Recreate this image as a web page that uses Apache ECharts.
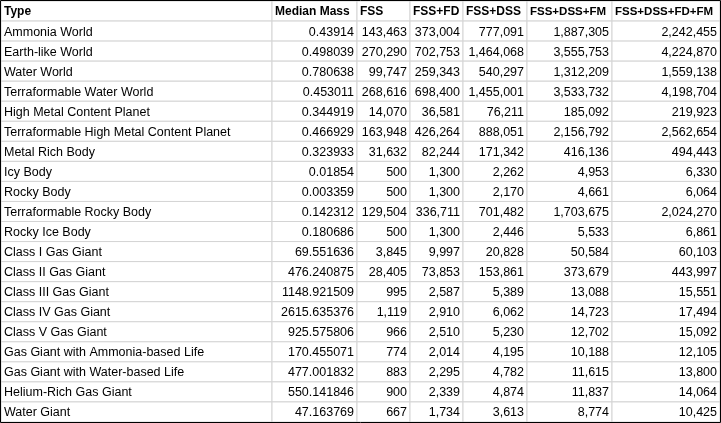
<!DOCTYPE html>
<html><head><meta charset="utf-8">
<script src="https://cdn.jsdelivr.net/npm/echarts@6/dist/echarts.min.js"></script>
<style>html,body{margin:0;padding:0;background:#fff}#c{width:721px;height:423px}</style>
</head><body><div id="c"></div>
<script>
var headers = ["Type","Median Mass","FSS","FSS+FD","FSS+DSS","FSS+DSS+FM","FSS+DSS+FD+FM"];
var types = ["Ammonia World","Earth-like World","Water World","Terraformable Water World","High Metal Content Planet","Terraformable High Metal Content Planet","Metal Rich Body","Icy Body","Rocky Body","Terraformable Rocky Body","Rocky Ice Body","Class I Gas Giant","Class II Gas Giant","Class III Gas Giant","Class IV Gas Giant","Class V Gas Giant","Gas Giant with Ammonia-based Life","Gas Giant with Water-based Life","Helium-Rich Gas Giant","Water Giant"];
var medianMass = ["0.43914","0.498039","0.780638","0.453011","0.344919","0.466929","0.323933","0.01854","0.003359","0.142312","0.180686","69.551636","476.240875","1148.921509","2615.635376","925.575806","170.455071","477.001832","550.141846","47.163769"];
var fss = ["143,463","270,290","99,747","268,616","14,070","163,948","31,632","500","500","129,504","500","3,845","28,405","995","1,119","966","774","883","900","667"];
var fssFd = ["373,004","702,753","259,343","698,400","36,581","426,264","82,244","1,300","1,300","336,711","1,300","9,997","73,853","2,587","2,910","2,510","2,014","2,295","2,339","1,734"];
var fssDss = ["777,091","1,464,068","540,297","1,455,001","76,211","888,051","171,342","2,262","2,170","701,482","2,446","20,828","153,861","5,389","6,062","5,230","4,195","4,782","4,874","3,613"];
var fssDssFm = ["1,887,305","3,555,753","1,312,209","3,533,732","185,092","2,156,792","416,136","4,953","4,661","1,703,675","5,533","50,584","373,679","13,088","14,723","12,702","10,188","11,615","11,837","8,774"];
var fssDssFdFm = ["2,242,455","4,224,870","1,559,138","4,198,704","219,923","2,562,654","494,443","6,330","6,064","2,024,270","6,861","60,103","443,997","15,551","17,494","15,092","12,105","13,800","14,064","10,425"];

var edges = [0,271,356,409,462,526,611,719];
var columns = [types, medianMass, fss, fssFd, fssDss, fssDssFm, fssDssFdFm];
var rows = ["h"].concat(types.map(function(t,i){return "r"+i;}));
var cells = [];
for (var c = 0; c < 7; c++) {
  cells.push([c, 0, headers[c], 1]);
  for (var r = 0; r < types.length; r++) cells.push([c, r+1, columns[c][r], 0]);
}
var chart = echarts.init(document.getElementById('c'));
chart.setOption({
  animation:false,
  grid:{left:1,top:1,width:719,height:421},
  xAxis:{type:'value',min:0,max:719,show:false},
  yAxis:{type:'category',data:rows,inverse:true,show:false},
  series:[{
    type:'custom',
    data:cells,
    renderItem:function(params, api){
      var c = api.value(0), r = api.value(1);
      var d = cells[params.dataIndex];
      var p0 = api.coord([edges[c], r]);
      var p1 = api.coord([edges[c+1], r]);
      var h = api.size([0,1])[1];
      var x = p0[0], y = p0[1]-h/2, w = p1[0]-p0[0];
      var bold = d[3]===1;
      var right = !bold && c>0;
      var size = bold ? (c>=5 ? 11.5 : 12) : 12.5;
      return {type:'group',children:[
        {type:'rect',shape:{x:x,y:y,width:w,height:h},style:{fill:'#fff',stroke:'#d4d4d4',lineWidth:1}},
        {type:'text',style:{text:d[2],x:right?x+w-3:x+3,y:y+h/2+1,align:right?'right':'left',verticalAlign:'middle',
          font:(bold?'bold ':'')+size+'px "Liberation Sans", Arial, sans-serif',fill:'#000'}}
      ]};
    }
  }],
  graphic:[{type:'rect',shape:{x:0.5,y:0.5,width:720,height:422},style:{fill:null,stroke:'#000',lineWidth:1},z:100}]
});
</script></body></html>
